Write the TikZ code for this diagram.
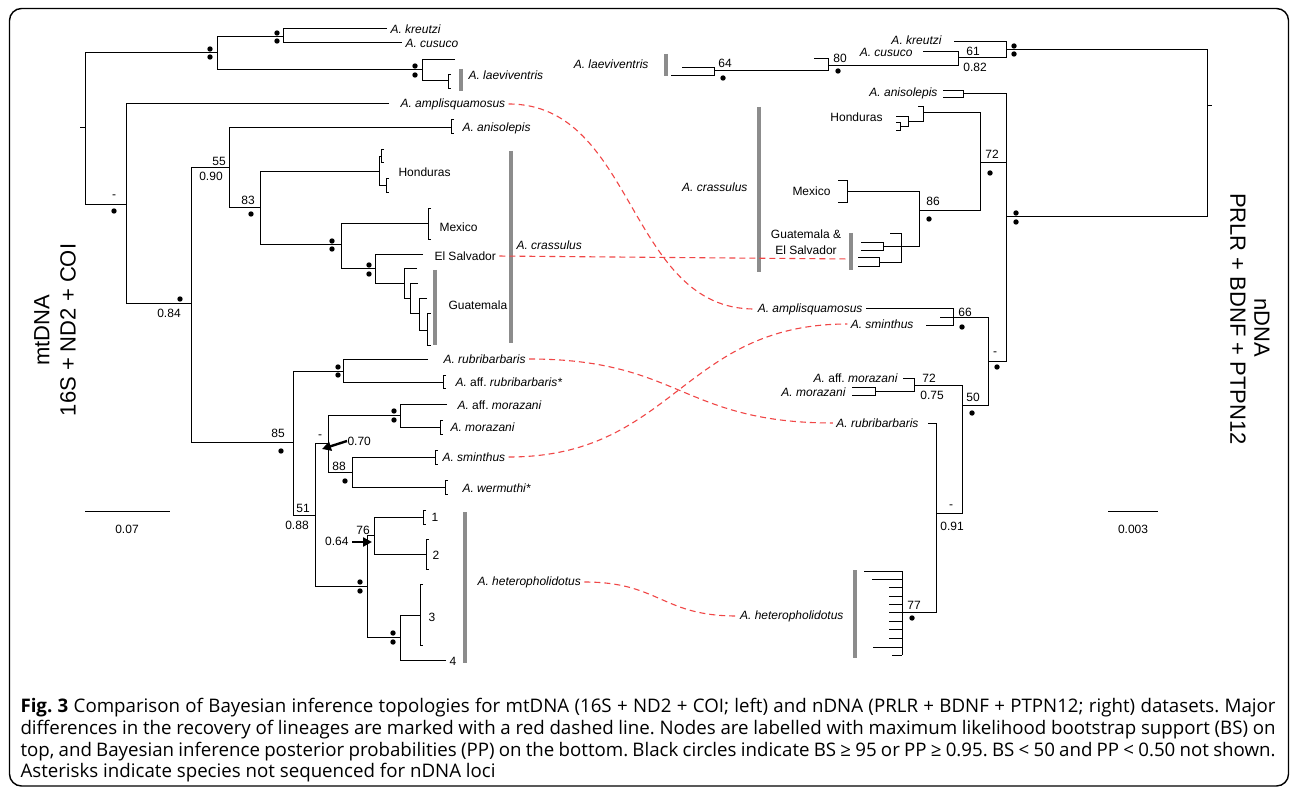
\documentclass[tikz,border=0pt]{standalone}
\usepackage{fontspec}
\setmainfont{Liberation Sans}
\newfontfamily\capfont{Open Sans}
\usetikzlibrary{arrows.meta}
\definecolor{bargray}{RGB}{140,140,140}
\definecolor{diffred}{RGB}{240,70,70}
% small terminal clades: name, up, down, length (negative = to the left)
\newcommand{\clade}[4]{\draw (#1) ++(#4,-#2) -| ++({-(#4)},{(#2)+(#3)}) -- ++(#4,0);}
\newcommand{\bsdot}[2]{\fill (#1,#2) circle (2.7pt);}

\begin{document}
\frenchspacing
\begin{tikzpicture}[x=1pt, y=-1pt, line width=1pt,
  sp/.style={font=\fontsize{12}{14}\selectfont\itshape, inner sep=0pt},
  nm/.style={font=\fontsize{12}{14}\selectfont, inner sep=0pt},
  gbar/.style={draw=bargray, line width=3.6pt},
  diff/.style={draw=diffred, line width=1.1pt, dash pattern=on 6pt off 4pt,
    shorten <=3pt, shorten >=3pt},
  bigarrow/.style={line width=2.4pt, -{Triangle[length=9pt,width=9pt]}},
  ttl/.style={font=\fontsize{22}{24}\selectfont, inner sep=0pt},
  figcap/.style={font=\capfont\fontsize{18.7}{22}\selectfont, inner sep=0pt, anchor=base west}]
\useasboundingbox (0,0) rectangle (1292,791);
\draw[line width=1.4pt, rounded corners=12pt] (9.5,8.5) rectangle (1288.5,786);

%%%%%%%%%%%%%%%%%%%%%%%%%%%%%%%%%%%%%%%% mtDNA tree
\coordinate (Lroot) at (85,128);
\coordinate (L1) at (217,53);
\coordinate (L2) at (283,37);
\coordinate (L3) at (422,70);
\coordinate (Lm) at (126,205);
\coordinate (L84) at (191,304);
\coordinate (L55) at (229,168);
\coordinate (L83) at (260,208);
\coordinate (Lh) at (379,172);
\coordinate (Lmx) at (341,245);
\coordinate (Les) at (375,269);
\coordinate (Lg1) at (404,284);
\coordinate (Lg2) at (410,299);
\coordinate (Lg3) at (419,314);
\coordinate (Lg4) at (427,330);
\coordinate (L85) at (293,442);
\coordinate (Lrub) at (343,371);
\coordinate (L51) at (315,515);
\coordinate (L70) at (328,443);
\coordinate (Lmor) at (400,415);
\coordinate (L88) at (352,472);
\coordinate (Lhet) at (367,586);
\coordinate (L76) at (374,535);
\coordinate (L34) at (400,637);

\coordinate (tKre) at (387,29);
\coordinate (tCus) at (402,43);
\coordinate (tLae1) at (455,60);
\coordinate (tLae2) at (448,81);
\coordinate (tAmp) at (389,104);
\coordinate (tAni) at (451,128);
\coordinate (th1) at (381,157);
\coordinate (th2) at (386,186);
\coordinate (tMex) at (428,224);
\coordinate (tEls) at (423,255);
\coordinate (tg1) at (417,269);
\coordinate (tg2) at (418,284);
\coordinate (tg3) at (427,299);
\coordinate (tg4) at (431,314);
\coordinate (tg5) at (431,345);
\coordinate (tRub) at (428,359);
\coordinate (tARub) at (443,382);
\coordinate (tAMor) at (447,404);
\coordinate (tMor) at (440,427);
\coordinate (tSmi) at (435,457);
\coordinate (tWer) at (445,487);
\coordinate (t1) at (423,517);
\coordinate (t2) at (426,554);
\coordinate (t3) at (420,615);
\coordinate (t4) at (446,660);

\draw (Lroot) -- ++(-5,0);
\draw (L1) -| (Lroot)  (Lm) -| (Lroot);
\draw (L2) -| (L1)  (L3) -| (L1);
\draw (tKre) -| (L2)  (tCus) -| (L2);
\draw (tLae1) -| (L3)  (tLae2) -| (L3);
\draw (tAmp) -| (Lm)  (L84) -| (Lm);
\draw (L55) -| (L84)  (L85) -| (L84);
\draw (tAni) -| (L55)  (L83) -| (L55);
\draw (Lh) -| (L83)  (Lmx) -| (L83);
\draw (th1) -| (Lh)  (th2) -| (Lh);
\draw (tMex) -| (Lmx)  (Les) -| (Lmx);
\draw (tEls) -| (Les)  (Lg1) -| (Les);
\draw (tg1) -| (Lg1)  (Lg2) -| (Lg1);
\draw (tg2) -| (Lg2)  (Lg3) -| (Lg2);
\draw (tg3) -| (Lg3)  (Lg4) -| (Lg3);
\draw (tg4) -| (Lg4)  (tg5) -| (Lg4);
\draw (Lrub) -| (L85)  (L51) -| (L85);
\draw (tRub) -| (Lrub)  (tARub) -| (Lrub);
\draw (L70) -| (L51)  (Lhet) -| (L51);
\draw (Lmor) -| (L70)  (L88) -| (L70);
\draw (tAMor) -| (Lmor)  (tMor) -| (Lmor);
\draw (tSmi) -| (L88)  (tWer) -| (L88);
\draw (L76) -| (Lhet)  (L34) -| (Lhet);
\draw (t1) -| (L76)  (t2) -| (L76);
\draw (t3) -| (L34)  (t4) -| (L34);

\clade{tLae2}{6}{8}{3}
\clade{tAni}{8}{6}{3}
\clade{th1}{7}{6}{3}
\clade{th2}{7}{7}{3}
\clade{tMex}{15}{16}{3}
\clade{tARub}{7}{6}{3}
\clade{tMor}{7}{7}{3}
\clade{tSmi}{7}{7}{3}
\clade{tWer}{7}{7}{3}
\clade{t1}{7}{7}{3}
\clade{t2}{15}{15}{3}
\clade{t3}{31}{30}{3}

\draw[gbar] (461,69) -- (461,91);
\draw[gbar] (511,151) -- (511,343);
\draw[gbar] (435,270) -- (435,345);
\draw[gbar] (465,512) -- (465,663);

\node[sp, anchor=west] (lKre) at (390,29) {A. kreutzi};
\node[sp, anchor=west] (lCus) at (405,43) {A. cusuco};
\node[sp, anchor=west] (lLae) at (468,75) {A. laeviventris};
\node[sp, anchor=west] (lAmp) at (400,104) {A. amplisquamosus};
\node[sp, anchor=west] (lAni) at (462,128) {A. anisolepis};
\node[nm, anchor=west] (lHon) at (398,172) {Honduras};
\node[nm, anchor=west] (lMex) at (439,227) {Mexico};
\node[nm, anchor=west] (lEls) at (434,256) {El Salvador};
\node[nm, anchor=west] (lGua) at (448,305) {Guatemala};
\node[sp, anchor=west] (lCra) at (516,245) {A. crassulus};
\node[sp, anchor=west] (lRub) at (443,359) {A. rubribarbaris};
\node[sp, anchor=west] (lARub) at (455,382) {A. \textup{aff.} rubribarbaris*};
\node[sp, anchor=west] (lAMor) at (457,405) {A. \textup{aff.} morazani};
\node[sp, anchor=west] (lMor) at (450,427) {A. morazani};
\node[sp, anchor=west] (lSmi) at (442,457) {A. sminthus};
\node[sp, anchor=west] (lWer) at (462,488) {A. wermuthi*};
\node[nm, anchor=west] (l1) at (431,517) {1};
\node[nm, anchor=west] (l2) at (432,555) {2};
\node[nm, anchor=west] (l3) at (428,617) {3};
\node[nm, anchor=west] (l4) at (449,661) {4};
\node[sp, anchor=west] (lHet) at (477,582) {A. heteropholidotus};

% support values
\bsdot{210}{49} \bsdot{210}{57}
\bsdot{277}{33} \bsdot{277}{41}
\bsdot{415}{66} \bsdot{415}{75}
\node[nm] (sLm) at (114,197) {-};
\bsdot{114}{211}
\node[nm] (s55) at (219,161) {55};
\node[nm] (p90) at (211,176) {0.90};
\node[nm] (s83) at (248,200) {83};
\bsdot{251}{214}
\bsdot{332}{241} \bsdot{332}{249}
\bsdot{369}{265} \bsdot{369}{274}
\bsdot{180}{299}
\node[nm] (p84) at (169,313) {0.84};
\node[nm] (s85) at (278,433) {85};
\bsdot{281}{451}
\bsdot{338}{367} \bsdot{338}{375}
\node[nm] (s51) at (303,508) {51};
\node[nm] (p88) at (297,525) {0.88};
\node[nm] (sL70) at (320,437) {-};
\node[nm, anchor=west] (p70) at (347,441) {0.70};
\draw[bigarrow] (p70.west) -- (322,449);
\bsdot{394}{411} \bsdot{394}{420}
\node[nm] (s88) at (339,466) {88};
\bsdot{345}{481}
\bsdot{360}{582} \bsdot{360}{591}
\node[nm] (s76) at (363,530) {76};
\node[nm, anchor=east] (p64) at (349,541) {0.64};
\draw[bigarrow] (p64.east) ++(3,1) -- (372,542);
\bsdot{393}{633} \bsdot{393}{642}

\draw (85,511) -- (170,511);
\node[nm] (sbL) at (127,529) {0.07};
\node[ttl, rotate=90] (mt) at (42,330) {mtDNA};
\node[ttl, rotate=90] (mtg) at (68,330) {16S + ND2 + COI};

%%%%%%%%%%%%%%%%%%%%%%%%%%%%%%%%%%%%%%%% nDNA tree
\coordinate (Rroot) at (1207,106);
\coordinate (Rk) at (1006,50);
\coordinate (R61) at (958,58);
\coordinate (R80) at (828,66);
\coordinate (R64) at (714,71);
\coordinate (Rp) at (1006,217);
\coordinate (tAniR) at (963,94);
\coordinate (R72) at (980,163);
\coordinate (RH) at (923,113);
\coordinate (RH2) at (908,122);
\coordinate (R86) at (919,211);
\coordinate (RGE) at (901,247);
\coordinate (RGE1) at (883,247);
\coordinate (RGE2) at (879,263);
\coordinate (Rmin) at (988,361);
\coordinate (R66) at (953,318);
\coordinate (R50) at (962,405);
\coordinate (R72b) at (914,385);
\coordinate (R91) at (936,513);
\coordinate (R77) at (902,612);

\coordinate (tKreR) at (954,42);
\coordinate (tCusR) at (923,52);
\coordinate (tR80) at (814,59);
\coordinate (tLaeR1) at (682,68);
\coordinate (tLaeR2) at (671,76);
\coordinate (tH0) at (918,107);
\coordinate (tH1) at (896,117);
\coordinate (tH2) at (900,127);
\coordinate (tMexR) at (847,192);
\coordinate (tGE0) at (890,234);
\coordinate (tAmpR) at (866,309);
\coordinate (tSmiR) at (926,326);
\coordinate (tR66) at (940,318);
\coordinate (tAMorR) at (903,378);
\coordinate (tMorR) at (875,391);
\coordinate (tRubR) at (928,423);

\draw (Rroot) -- ++(5,0);
\draw (Rk) -| (Rroot)  (Rp) -| (Rroot);
\draw (tKreR) -| (Rk)  (R61) -| (Rk);
\draw (tCusR) -| (R61)  (R80) -| (R61);
\draw (tR80) -| (R80)  (R64) -| (R80);
\draw (tLaeR1) -| (R64)  (tLaeR2) -| (R64);
\draw (tAniR) -| (Rp)  (R72) -| (Rp)  (Rmin) -| (Rp);
\draw (RH) -| (R72)  (R86) -| (R72);
\draw (tH0) -| (RH)  (RH2) -| (RH);
\draw (tH1) -| (RH2)  (tH2) -| (RH2);
\draw (tMexR) -| (R86)  (RGE) -| (R86);
\draw (tGE0) -| (RGE)  (RGE1) -| (RGE)  (RGE2) -| (RGE);
\draw (R66) -| (Rmin)  (R50) -| (Rmin);
\draw (tAmpR) -| (R66)  (tSmiR) -| (R66)  (tR66) -- (R66);
\draw (R72b) -| (R50)  (R91) -| (R50);
\draw (tAMorR) -| (R72b)  (tMorR) -| (R72b);
\draw (tRubR) -| (R91)  (R77) -| (R91);
\foreach \y/\x in {571/864, 579/872, 587/889, 596/889, 604/889, 612/889,
                   621/889, 629/889, 638/889, 647/873, 655/892}
  \draw (\x,\y) -- (R77 |- 0,\y);
\draw (902,571) -- (902,655);

\clade{tAniR}{3}{4}{-20}
\clade{tH2}{4}{4}{-4}
\clade{tMexR}{11}{11}{-9}
\clade{RGE1}{4}{4}{-22}
\clade{RGE2}{5}{4}{-21}
\clade{tMorR}{4}{4}{-23}

\draw[gbar] (666,54) -- (666,76);
\draw[gbar] (759,107) -- (759,272);
\draw[gbar] (851,233) -- (851,270);
\draw[gbar] (855,570) -- (855,658);
\coordinate (gesBar) at (851,259);

\node[sp, anchor=east] (rKre) at (942,40) {A. kreutzi};
\node[sp, anchor=east] (rCus) at (913,52) {A. cusuco};
\node[sp, anchor=east] (rLae) at (649,64) {A. laeviventris};
\node[sp, anchor=east] (rAni) at (938,93) {A. anisolepis};
\node[nm, anchor=east] (rHon) at (883,117) {Honduras};
\node[sp, anchor=east] (rCra) at (748,187) {A. crassulus};
\node[nm, anchor=east] (rMex) at (831,191) {Mexico};
\node[nm, align=center, font=\fontsize{12}{16}\selectfont] (rGE) at (806,242) {Guatemala \&\\El Salvador};
\node[sp, anchor=east] (rAmp) at (863,309) {A. amplisquamosus};
\node[sp, anchor=east] (rSmi) at (914,324) {A. sminthus};
\node[sp, anchor=east] (rAMor) at (898,378) {A. \textup{aff.} morazani};
\node[sp, anchor=east] (rMor) at (846,392) {A. morazani};
\node[sp, anchor=east] (rRub) at (919,423) {A. rubribarbaris};
\node[sp, anchor=east] (rHet) at (844,616) {A. heteropholidotus};

% support values
\node[nm] (s64) at (725,63) {64};
\bsdot{723}{78}
\node[nm] (s80) at (840,58) {80};
\bsdot{838}{71}
\node[nm] (s61) at (973,51) {61};
\node[nm] (p82) at (975,67) {0.82};
\bsdot{1014}{46} \bsdot{1014}{54}
\bsdot{1016}{213} \bsdot{1016}{222}
\node[nm] (s72) at (992,154) {72};
\bsdot{990}{173}
\node[nm] (s86) at (933,201) {86};
\bsdot{929}{219}
\node[nm] (s66) at (965,312) {66};
\bsdot{962}{327}
\node[nm] (sRm) at (995,354) {-};
\bsdot{997}{367}
\node[nm] (s72b) at (929,378) {72};
\node[nm] (p75) at (932,395) {0.75};
\node[nm] (s50) at (973,397) {50};
\bsdot{972}{413}
\node[nm] (sR91) at (951,507) {-};
\node[nm] (p91) at (952,526) {0.91};
\node[nm] (s77) at (914,605) {77};
\bsdot{912}{618}

\draw (1108,511) -- (1158,511);
\node[nm] (sbR) at (1133,529) {0.003};
\node[ttl, rotate=-90] (nd) at (1262,328) {nDNA};
\node[ttl, rotate=-90] (ndg) at (1238,319) {PRLR + BDNF + PTPN12};

%%%%%%%%%%%%%%%%%%%%%%%%%%%%%%%%%%%%%%%% differences
\draw[diff] (lAmp.east) .. controls +(130,0) and +(-130,0) .. (rAmp.west);
\draw[diff] (lEls.east) -- (gesBar);
\draw[diff] (lRub.east) .. controls +(154,0) and +(-154,0) .. (rRub.west);
\draw[diff] (lSmi.east) .. controls +(168,0) and +(-168,0) .. (rSmi.west);
\draw[diff] (lHet.east) .. controls +(78,0) and +(-78,0) .. (rHet.west);

%%%%%%%%%%%%%%%%%%%%%%%%%%%%%%%%%%%%%%%% caption
\node[figcap] (c1) at (20,712) {\makebox[1255pt][s]{\textbf{Fig. 3} Comparison of Bayesian inference topologies for mtDNA (16S + ND2 + COI; left) and nDNA (PRLR + BDNF + PTPN12; right) datasets. Major}};
\node[figcap] (c2) at (20,734) {\makebox[1255pt][s]{differences in the recovery of lineages are marked with a red dashed line. Nodes are labelled with maximum likelihood bootstrap support (BS) on}};
\node[figcap] (c3) at (20,756) {\makebox[1255pt][s]{top, and Bayesian inference posterior probabilities (PP) on the bottom. Black circles indicate BS ≥ 95 or PP ≥ 0.95. BS < 50 and PP < 0.50 not shown.}};
\node[figcap] (c4) at (20,777) {Asterisks indicate species not sequenced for nDNA loci};
\end{tikzpicture}
\end{document}
